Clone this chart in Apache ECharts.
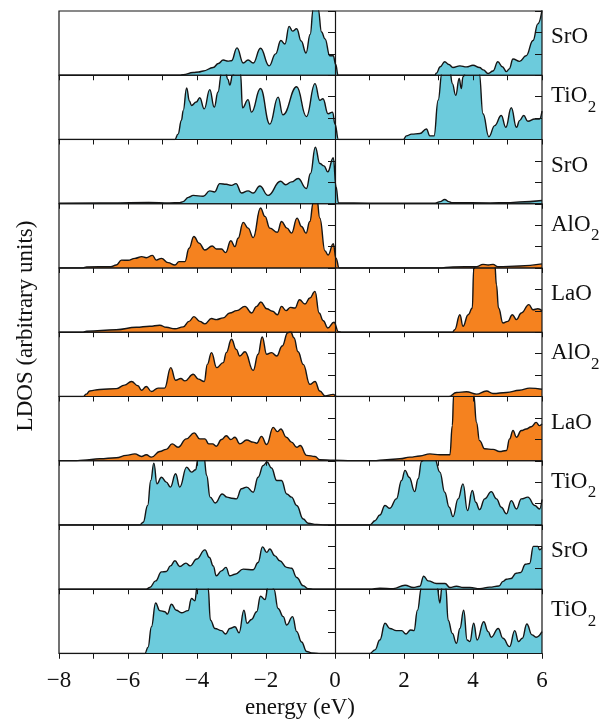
<!DOCTYPE html>
<html><head><meta charset="utf-8">
<script src="https://cdn.jsdelivr.net/npm/echarts@6/dist/echarts.min.js"></script>
<style>html,body{margin:0;padding:0;background:#fff}#c{width:600px;height:721px}</style>
</head><body><div id="c"></div>
<script>
// ---- data: [energy (eV), LDOS (arb. units)] per layer, top to bottom ----
const srO1 = [[-8,0],[-4.5,0],[-4.4,0.03],[-4.11,0.13],[-3.95,0.15],[-3.82,0.2],[-3.53,0.36],[-3.38,0.55],[-3.24,0.71],[-3.1,0.66],[-3.0,0.68],[-2.84,1.28],[-2.66,0.57],[-2.52,0.71],[-2.37,0.57],[-2.16,1.26],[-1.91,0.44],[-1.72,1.0],[-1.57,1.62],[-1.45,1.46],[-1.33,2.28],[-1.23,2.06],[-1.11,2.17],[-0.98,1.6],[-0.84,1.04],[-0.72,1.9],[-0.63,3.1],[-0.55,3.5],[-0.49,3.1],[-0.39,2.02],[-0.29,1.7],[-0.15,0.91],[-0.05,0.91],[0.02,0.5],[0.09,0],[2.89,0],[2.94,0.1],[3.05,0.4],[3.18,0.63],[3.3,0.5],[3.42,0.36],[3.62,0.44],[3.81,0.39],[4.0,0.47],[4.19,0.36],[4.3,0.25],[4.44,0.08],[4.58,0.2],[4.72,0.63],[4.85,0.4],[4.97,0.17],[5.05,0.3],[5.16,0.76],[5.35,0.65],[5.54,0.91],[5.74,1.62],[5.88,2.4],[6.0,3.04]];
const tiO2a = [[-8,0],[-4.64,0],[-4.55,0.25],[-4.45,0.9],[-4.4,1.35],[-4.3,2.41],[-4.22,1.8],[-4.16,1.59],[-4.02,1.75],[-3.92,1.95],[-3.79,1.43],[-3.63,2.33],[-3.5,1.51],[-3.39,2.22],[-3.29,3.1],[-3.2,3.3],[-3.1,2.8],[-3.05,2.54],[-2.97,3.0],[-2.85,3.3],[-2.74,3.1],[-2.68,1.48],[-2.52,1.86],[-2.42,1.28],[-2.16,2.38],[-1.89,0.72],[-1.65,1.98],[-1.51,1.15],[-1.11,2.46],[-0.83,1.07],[-0.58,2.61],[-0.44,1.83],[-0.35,1.9],[-0.2,1.2],[-0.07,1.28],[0.0,0.72],[0.1,0],[1.98,0],[2.07,0.17],[2.22,0.25],[2.46,0.28],[2.65,0.49],[2.75,0.17],[2.87,0.17],[2.99,1.83],[3.1,3.1],[3.33,3.2],[3.4,2.61],[3.5,2.06],[3.6,2.85],[3.66,2.38],[3.71,2.93],[3.81,3.2],[4.0,3.2],[4.18,3.1],[4.29,1.2],[4.46,0.13],[4.63,0.65],[4.82,1.12],[4.95,0.57],[5.11,1.48],[5.26,0.57],[5.35,0.88],[5.47,1.12],[5.59,0.85],[5.79,0.96],[5.93,0.96],[6.0,1.32]];
const srO2 = [[-8,0.03],[-6.5,0.04],[-5.4,0.06],[-4.8,0.04],[-4.5,0.05],[-4.4,0.1],[-4.25,0.3],[-4.11,0.39],[-3.82,0.35],[-3.63,0.6],[-3.49,0.55],[-3.34,0.94],[-3.15,0.91],[-3.0,0.86],[-2.87,0.94],[-2.71,0.5],[-2.52,0.6],[-2.37,0.5],[-2.18,0.83],[-1.94,0.39],[-1.58,1.05],[-1.43,0.89],[-1.26,1.02],[-1.07,1.18],[-0.83,0.71],[-0.71,1.41],[-0.57,2.64],[-0.44,1.88],[-0.32,1.77],[-0.21,1.49],[-0.05,2.15],[0.03,0.8],[0.1,0.04],[1.0,0.03],[2.9,0.03],[3.05,0.1],[3.18,0.2],[3.3,0.1],[3.38,0.05],[4.5,0.04],[5.0,0.05],[5.35,0.08],[6.0,0.15]];
const alO2a = [[-8,0],[-7.3,0],[-7.2,0.05],[-6.5,0.06],[-6.34,0.14],[-6.19,0.37],[-6.0,0.36],[-5.8,0.45],[-5.6,0.53],[-5.47,0.48],[-5.29,0.59],[-5.18,0.37],[-5.03,0.45],[-4.84,0.25],[-4.64,0.14],[-4.52,0.3],[-4.35,0.3],[-4.23,0.92],[-4.09,1.47],[-3.94,1.16],[-3.77,0.84],[-3.56,1.03],[-3.44,0.89],[-3.29,0.89],[-3.17,0.72],[-3.02,1.27],[-2.9,1.0],[-2.81,1.39],[-2.66,2.13],[-2.52,1.86],[-2.37,1.42],[-2.16,2.8],[-2.03,2.41],[-1.89,1.86],[-1.67,1.67],[-1.55,2.17],[-1.39,1.86],[-1.26,1.63],[-1.1,2.33],[-0.97,1.94],[-0.84,1.63],[-0.73,2.17],[-0.63,3.05],[-0.53,3.3],[-0.44,2.33],[-0.29,0.8],[-0.2,0.61],[-0.05,1.13],[0.03,0.45],[0.12,0],[3.0,0],[3.42,0.05],[4.1,0.06],[4.29,0.17],[4.44,0.14],[4.58,0.17],[4.72,0.06],[5.35,0.09],[6.0,0.19]];
const laOa = [[-8,0],[-7.3,0],[-7.2,0.05],[-6.34,0.12],[-5.76,0.23],[-5.37,0.28],[-5.08,0.33],[-4.89,0.23],[-4.64,0.16],[-4.4,0.25],[-4.23,0.51],[-4.09,0.73],[-3.92,0.51],[-3.77,0.39],[-3.58,0.64],[-3.44,0.59],[-3.24,0.67],[-3.05,0.9],[-2.85,1.01],[-2.61,1.21],[-2.42,0.9],[-2.27,1.21],[-2.15,1.41],[-1.98,1.1],[-1.81,0.98],[-1.67,0.82],[-1.55,1.21],[-1.42,1.01],[-1.29,1.16],[-1.16,1.13],[-1.03,1.52],[-0.87,1.32],[-0.73,1.6],[-0.58,1.91],[-0.46,0.9],[-0.34,0.54],[-0.21,0.2],[-0.03,0.47],[0.1,0.03],[0.2,0],[3.4,0],[3.47,0.12],[3.62,0.82],[3.71,0.28],[3.86,0.82],[3.98,1.13],[4.02,2.96],[4.1,3.2],[4.4,3.2],[4.63,3.2],[4.68,2.22],[4.74,1.13],[4.87,0.43],[5.01,0.51],[5.14,0.82],[5.26,0.59],[5.4,0.9],[5.62,1.29],[5.74,1.05],[5.88,1.1],[6.0,1.01]];
const alO2b = [[-8,0],[-7.3,0],[-7.21,0.11],[-7.11,0.26],[-6.82,0.33],[-6.34,0.37],[-6.1,0.53],[-5.9,0.7],[-5.71,0.5],[-5.61,0.29],[-5.47,0.47],[-5.32,0.23],[-5.13,0.39],[-4.94,0.39],[-4.76,1.35],[-4.62,0.76],[-4.47,0.84],[-4.35,0.73],[-4.11,1.04],[-3.96,0.81],[-3.79,0.7],[-3.7,1.5],[-3.58,2.05],[-3.43,1.35],[-3.24,1.58],[-3.15,2.05],[-3.0,2.67],[-2.86,2.2],[-2.76,1.89],[-2.61,2.09],[-2.37,1.22],[-2.23,1.97],[-2.11,2.78],[-1.98,1.97],[-1.84,2.05],[-1.69,1.89],[-1.53,2.36],[-1.37,2.98],[-1.29,3.05],[-1.19,2.74],[-1.07,2.09],[-0.92,1.5],[-0.73,0.57],[-0.58,0.7],[-0.44,0.26],[-0.29,0.03],[-0.05,0.1],[0.05,0],[3.3,0],[3.52,0.19],[3.81,0.22],[4.1,0.11],[4.39,0.26],[4.58,0.14],[4.97,0.19],[5.35,0.29],[5.64,0.39],[6.0,0.34]];
const laOb = [[-8,0],[-7.5,0],[-7.3,0.03],[-6.82,0.09],[-6.34,0.14],[-6.05,0.25],[-5.8,0.32],[-5.61,0.2],[-5.47,0.28],[-5.32,0.17],[-5.08,0.43],[-4.89,0.53],[-4.72,0.79],[-4.55,0.63],[-4.31,1.02],[-4.08,1.3],[-3.92,1.02],[-3.77,1.02],[-3.66,0.79],[-3.55,0.79],[-3.44,0.68],[-3.29,0.99],[-3.15,1.17],[-3.02,0.99],[-2.9,1.1],[-2.76,0.79],[-2.56,0.97],[-2.37,0.87],[-2.27,0.82],[-2.13,1.14],[-1.98,0.76],[-1.79,1.56],[-1.67,1.36],[-1.57,1.48],[-1.41,1.1],[-1.26,0.87],[-1.11,0.63],[-1.01,0.71],[-0.82,0.25],[-0.58,0.2],[-0.44,0.05],[-0.05,0.02],[0.5,0],[1.1,0],[1.5,0.05],[1.88,0.09],[2.17,0.17],[2.46,0.22],[2.75,0.32],[3.04,0.28],[3.33,0.28],[3.4,1.64],[3.44,3.1],[3.71,3.2],[4.02,3.1],[4.1,1.79],[4.19,0.94],[4.34,0.56],[4.58,0.53],[4.77,0.43],[4.97,0.48],[5.06,1.02],[5.16,1.41],[5.26,1.1],[5.4,1.41],[5.54,1.48],[5.69,1.59],[5.83,1.79],[5.93,1.64],[6.0,1.72]];
const tiO2b = [[-8,0],[-5.66,0],[-5.56,0.13],[-5.43,0.91],[-5.34,2.08],[-5.25,2.89],[-5.16,1.92],[-5.03,2.23],[-4.89,2.0],[-4.77,1.77],[-4.62,2.39],[-4.5,1.77],[-4.3,2.7],[-4.16,2.47],[-4.04,2.58],[-3.97,3.1],[-3.8,3.2],[-3.72,2.31],[-3.62,1.3],[-3.47,1.03],[-3.27,1.45],[-3.13,1.3],[-3.0,1.25],[-2.86,1.22],[-2.71,1.69],[-2.56,1.77],[-2.37,1.53],[-2.23,2.23],[-2.08,2.78],[-1.97,2.94],[-1.84,2.66],[-1.69,2.08],[-1.55,2.08],[-1.4,1.45],[-1.26,1.3],[-1.11,0.91],[-0.92,0.28],[-0.78,0.08],[-0.53,0.03],[-0.3,0],[1.01,0],[1.16,0.2],[1.3,0.47],[1.45,0.91],[1.59,0.78],[1.78,1.22],[1.93,2.08],[2.03,2.55],[2.15,2.23],[2.31,1.56],[2.41,2.16],[2.51,2.97],[2.65,3.2],[2.89,3.1],[3.04,2.47],[3.18,1.53],[3.31,0.83],[3.42,0.39],[3.57,1.22],[3.71,1.92],[3.84,0.67],[3.98,1.61],[4.08,1.06],[4.19,0.72],[4.34,1.22],[4.53,1.56],[4.68,1.22],[4.82,0.83],[4.97,0.52],[5.11,1.14],[5.26,0.75],[5.4,1.22],[5.59,1.3],[5.79,0.91],[5.93,0.75],[6.0,1.19]];
const srO3 = [[-8,0],[-5.47,0],[-5.37,0.08],[-5.2,0.39],[-5.03,0.81],[-4.89,0.83],[-4.77,1.09],[-4.64,1.33],[-4.5,1.06],[-4.32,1.22],[-4.2,1.09],[-4.01,1.41],[-3.77,1.84],[-3.64,1.48],[-3.53,1.09],[-3.44,0.63],[-3.29,0.86],[-3.16,1.02],[-3.05,0.63],[-2.9,0.7],[-2.66,0.94],[-2.37,0.91],[-2.23,1.25],[-2.1,1.98],[-1.98,1.72],[-1.89,1.88],[-1.74,1.56],[-1.6,1.33],[-1.4,1.02],[-1.26,0.98],[-1.11,0.55],[-0.92,0.16],[-0.78,0.03],[-0.6,0],[1.0,0],[1.3,0.05],[1.69,0.03],[2.03,0.19],[2.27,0.08],[2.46,0.14],[2.57,0.61],[2.7,0.39],[2.94,0.27],[3.19,0.27],[3.33,0.08],[3.52,0.14],[3.72,0.08],[3.91,0.08],[4.2,0.03],[4.48,0.1],[4.75,0.15],[4.87,0.37],[4.97,0.47],[5.1,0.5],[5.25,0.75],[5.38,0.78],[5.52,1.17],[5.64,1.2],[5.75,2.0],[5.88,2.0],[5.93,1.84],[6.0,1.95]];
const tiO2c = [[-8,0],[-5.51,0],[-5.42,0.29],[-5.32,1.25],[-5.2,2.36],[-5.08,2.0],[-4.93,1.95],[-4.86,1.84],[-4.74,2.3],[-4.6,2.02],[-4.45,1.9],[-4.26,2.0],[-4.16,2.57],[-4.06,2.46],[-4.0,3.1],[-3.85,3.3],[-3.68,3.1],[-3.61,1.56],[-3.48,1.17],[-3.29,1.07],[-3.17,0.91],[-3.05,1.17],[-2.9,1.25],[-2.78,0.97],[-2.64,2.02],[-2.55,1.41],[-2.42,1.59],[-2.27,1.95],[-2.16,2.67],[-2.03,2.52],[-1.94,3.1],[-1.85,3.3],[-1.77,3.0],[-1.65,2.1],[-1.5,1.72],[-1.4,1.33],[-1.23,1.72],[-1.11,1.02],[-0.97,0.54],[-0.82,0.09],[-0.68,0.03],[-0.4,0],[1.01,0],[1.16,0.17],[1.3,0.63],[1.45,1.41],[1.59,1.17],[1.78,1.07],[1.93,1.07],[2.06,0.91],[2.19,1.1],[2.29,1.07],[2.39,2.02],[2.51,3.1],[2.75,3.3],[2.96,3.1],[3.04,2.36],[3.1,3.1],[3.21,3.1],[3.28,1.56],[3.4,0.94],[3.52,0.48],[3.62,1.17],[3.73,2.02],[3.83,0.63],[3.91,0.56],[4.02,1.41],[4.12,0.63],[4.31,1.48],[4.44,1.02],[4.53,0.76],[4.73,1.17],[4.87,0.71],[5.06,0.32],[5.21,1.07],[5.32,0.56],[5.43,0.71],[5.56,1.38],[5.71,0.87],[5.83,0.76],[6.0,1.02]];

const layerNames = ['SrO','TiO','SrO','AlO','LaO','AlO','LaO','TiO','SrO','TiO'];
const layerSubs  = ['','2','','2','','2','','2','','2'];
const layerData  = [srO1, tiO2a, srO2, alO2a, laOa, alO2b, laOb, tiO2b, srO3, tiO2c];
const layerKind  = ['c','c','c','o','o','o','o','c','c','c'];
const xTickLabels = [-8,-6,-4,-2,0,2,4,6];

// ---- layout / style ----
const CYAN = '#6ccbdc', ORANGE = '#f5821f', INK = '#151515';
const LEFT = 59, RIGHT = 58, TOP = 11, H = 64.25, N = layerData.length;
const FF = '"Liberation Serif", "Times New Roman", serif';
const FS = 23;

const grids = [], xAxes = [], yAxes = [], series = [], graphics = [];
for (let i = 0; i < N; i++) {
  grids.push({ left: LEFT, right: RIGHT, top: TOP + i * H, height: H, containLabel: false });
  xAxes.push({ gridIndex: i, type: 'value', min: -8, max: 6, interval: 1, position: 'top', z: 10,
    axisLine: { show: false }, axisLabel: { show: false }, splitLine: { show: false },
    axisTick: { show: true, inside: true, length: 5, lineStyle: { color: INK, width: 1 } } });
  yAxes.push({ gridIndex: i, type: 'value', min: 0, max: 3, interval: 1, position: 'left', z: 10,
    axisLine: { show: false }, axisLabel: { show: false }, splitLine: { show: false },
    axisTick: { show: true, inside: false, length: 7, lineStyle: { color: INK, width: 1 } } });
  yAxes.push({ gridIndex: i, type: 'value', min: 0, max: 3, interval: 1, position: 'right', z: 10,
    axisLine: { show: false }, axisLabel: { show: false }, splitLine: { show: false },
    axisTick: { show: true, inside: true, length: 7, lineStyle: { color: INK, width: 1 } } });
  series.push({
    type: 'line', xAxisIndex: i, yAxisIndex: 2 * i, data: layerData[i],
    showSymbol: false, symbol: 'none', smooth: 0.45, smoothMonotone: 'x', clip: true,
    lineStyle: { color: INK, width: 1.4 },
    areaStyle: { color: layerKind[i] === 'c' ? CYAN : ORANGE, opacity: 1, origin: 'start' },
    silent: true, animation: false,
    markLine: { silent: true, symbol: 'none', animation: false, label: { show: false },
      lineStyle: { color: INK, width: 1.2, type: 'solid' }, data: [{ xAxis: 0 }] }
  });
}
// bottom axis with labels
xAxes.push({ gridIndex: N - 1, type: 'value', min: -8, max: 6, interval: 1, position: 'bottom', z: 10,
  axisLine: { show: false }, splitLine: { show: false },
  axisTick: { show: true, inside: false, length: 5, lineStyle: { color: INK, width: 1 } },
  axisLabel: { show: true, margin: 16, color: '#111', fontFamily: FF, fontSize: FS,
    formatter: v => xTickLabels.indexOf(v) >= 0 ? (v < 0 ? '\u2212' + Math.abs(v) : String(v)) : '' } });

// panel frames (drawn on top of the fills)
const ctx = document.createElement('canvas').getContext('2d');
ctx.font = FS + 'px ' + FF;
for (let i = 0; i < N; i++) {
  graphics.push({ type: 'rect', z: 100, silent: true,
    shape: { x: LEFT, y: TOP + i * H, width: 600 - LEFT - RIGHT, height: H },
    style: { fill: null, stroke: INK, lineWidth: 1.2 } });
  const hasSub = layerSubs[i] !== '';
  const cy = TOP + i * H + H / 2 - (hasSub ? 11 : 6);
  graphics.push({ type: 'text', z: 100, x: 551, y: cy,
    style: { text: layerNames[i], font: FS + 'px ' + FF, fill: '#111', align: 'left', verticalAlign: 'middle' } });
  if (hasSub) {
    const w = ctx.measureText(layerNames[i]).width;
    graphics.push({ type: 'text', z: 100, x: 551 + w + 0.5, y: cy + 11,
      style: { text: layerSubs[i], font: '17px ' + FF, fill: '#111', align: 'left', verticalAlign: 'middle' } });
  }
}
graphics.push({ type: 'text', z: 100, x: 26, y: 326, rotation: Math.PI / 2,
  style: { text: 'LDOS (arbitrary units)', font: FS + 'px ' + FF, fill: '#111', align: 'center', verticalAlign: 'middle' } });
graphics.push({ type: 'text', z: 100, x: 300, y: 708,
  style: { text: 'energy (eV)', font: FS + 'px ' + FF, fill: '#111', align: 'center', verticalAlign: 'middle' } });

const chart = echarts.init(document.getElementById('c'), null, { renderer: 'canvas' });
chart.setOption({
  animation: false, backgroundColor: '#fff',
  grid: grids, xAxis: xAxes, yAxis: yAxes, series: series, graphic: graphics
});
</script>
</body></html>
